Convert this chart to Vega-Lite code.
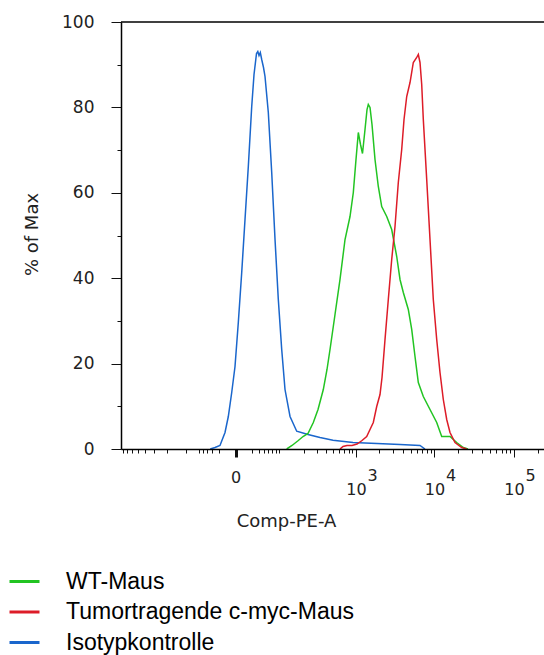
{
  "$schema": "https://vega.github.io/schema/vega-lite/v6.json",
  "width": 423,
  "height": 427,
  "autosize": {"type": "none"},
  "padding": {"left": 121, "top": 22, "right": 0, "bottom": 206},
  "background": "white",
  "config": {"view": {"stroke": null}},
  "layer": [
    {
      "data": {"values": [
        {"series": "Isotypkontrolle", "x": -34, "y": 0},
        {"series": "Isotypkontrolle", "x": -25.5, "y": 0.35},
        {"series": "Isotypkontrolle", "x": -17.9, "y": 0.82},
        {"series": "Isotypkontrolle", "x": -11.2, "y": 3.86},
        {"series": "Isotypkontrolle", "x": -7.3, "y": 7.61},
        {"series": "Isotypkontrolle", "x": -3.66, "y": 13.23},
        {"series": "Isotypkontrolle", "x": -0.46, "y": 19.32},
        {"series": "Isotypkontrolle", "x": 2.66, "y": 29.63},
        {"series": "Isotypkontrolle", "x": 6.2, "y": 41.33},
        {"series": "Isotypkontrolle", "x": 9.97, "y": 53.75},
        {"series": "Isotypkontrolle", "x": 14.14, "y": 66.16},
        {"series": "Isotypkontrolle", "x": 18.87, "y": 80.21},
        {"series": "Isotypkontrolle", "x": 22.33, "y": 87.7},
        {"series": "Isotypkontrolle", "x": 26.37, "y": 92.62},
        {"series": "Isotypkontrolle", "x": 28.58, "y": 93.09},
        {"series": "Isotypkontrolle", "x": 30.71, "y": 92.15},
        {"series": "Isotypkontrolle", "x": 33.09, "y": 92.86},
        {"series": "Isotypkontrolle", "x": 35.77, "y": 91.22},
        {"series": "Isotypkontrolle", "x": 39.37, "y": 89.34},
        {"series": "Isotypkontrolle", "x": 42.53, "y": 87.24},
        {"series": "Isotypkontrolle", "x": 49.96, "y": 78.81},
        {"series": "Isotypkontrolle", "x": 58.38, "y": 64.75},
        {"series": "Isotypkontrolle", "x": 67.43, "y": 49.06},
        {"series": "Isotypkontrolle", "x": 77.32, "y": 35.01},
        {"series": "Isotypkontrolle", "x": 88.58, "y": 23.3},
        {"series": "Isotypkontrolle", "x": 100.6, "y": 13.93},
        {"series": "Isotypkontrolle", "x": 121.3, "y": 7.61},
        {"series": "Isotypkontrolle", "x": 153.9, "y": 4.17},
        {"series": "Isotypkontrolle", "x": 225.6, "y": 3.4},
        {"series": "Isotypkontrolle", "x": 332.6, "y": 2.69},
        {"series": "Isotypkontrolle", "x": 499, "y": 2.06},
        {"series": "Isotypkontrolle", "x": 915, "y": 1.52},
        {"series": "Isotypkontrolle", "x": 1866, "y": 1.29},
        {"series": "Isotypkontrolle", "x": 3663, "y": 1.05},
        {"series": "Isotypkontrolle", "x": 6561, "y": 0.82},
        {"series": "Isotypkontrolle", "x": 7588, "y": 0},
        {"series": "WT-Maus", "x": 107.3, "y": 0},
        {"series": "WT-Maus", "x": 130.3, "y": 0.82},
        {"series": "WT-Maus", "x": 162.7, "y": 1.99},
        {"series": "WT-Maus", "x": 191.1, "y": 2.93},
        {"series": "WT-Maus", "x": 225.6, "y": 3.63},
        {"series": "WT-Maus", "x": 268.4, "y": 6.21},
        {"series": "WT-Maus", "x": 312.1, "y": 9.25},
        {"series": "WT-Maus", "x": 369.1, "y": 13.93},
        {"series": "WT-Maus", "x": 414.4, "y": 18.62},
        {"series": "WT-Maus", "x": 454.9, "y": 23.3},
        {"series": "WT-Maus", "x": 530.7, "y": 31.5},
        {"series": "WT-Maus", "x": 618.4, "y": 39.7},
        {"series": "WT-Maus", "x": 719.8, "y": 49.06},
        {"series": "WT-Maus", "x": 836.6, "y": 54.45},
        {"series": "WT-Maus", "x": 923.9, "y": 60.07},
        {"series": "WT-Maus", "x": 1001, "y": 67.8},
        {"series": "WT-Maus", "x": 1073, "y": 74.12},
        {"series": "WT-Maus", "x": 1145, "y": 71.31},
        {"series": "WT-Maus", "x": 1215, "y": 69.2},
        {"series": "WT-Maus", "x": 1309, "y": 74.82},
        {"series": "WT-Maus", "x": 1389, "y": 79.5},
        {"series": "WT-Maus", "x": 1443, "y": 80.68},
        {"series": "WT-Maus", "x": 1518, "y": 79.98},
        {"series": "WT-Maus", "x": 1610, "y": 76.0},
        {"series": "WT-Maus", "x": 1759, "y": 67.8},
        {"series": "WT-Maus", "x": 1939, "y": 61.48},
        {"series": "WT-Maus", "x": 2143, "y": 56.79},
        {"series": "WT-Maus", "x": 2482, "y": 54.45},
        {"series": "WT-Maus", "x": 2873, "y": 51.4},
        {"series": "WT-Maus", "x": 3327, "y": 45.08},
        {"series": "WT-Maus", "x": 3663, "y": 39.7},
        {"series": "WT-Maus", "x": 4034, "y": 36.65},
        {"series": "WT-Maus", "x": 4666, "y": 32.67},
        {"series": "WT-Maus", "x": 5153, "y": 27.99},
        {"series": "WT-Maus", "x": 5673, "y": 21.66},
        {"series": "WT-Maus", "x": 6247, "y": 15.57},
        {"series": "WT-Maus", "x": 7224, "y": 12.3},
        {"series": "WT-Maus", "x": 8776, "y": 9.25},
        {"series": "WT-Maus", "x": 10664, "y": 6.21},
        {"series": "WT-Maus", "x": 12329, "y": 2.93},
        {"series": "WT-Maus", "x": 15687, "y": 2.93},
        {"series": "WT-Maus", "x": 19054, "y": 1.52},
        {"series": "WT-Maus", "x": 23080, "y": 0.35},
        {"series": "WT-Maus", "x": 26444, "y": 0},
        {"series": "Tumortragende c-myc-Maus", "x": 618.4, "y": 0},
        {"series": "Tumortragende c-myc-Maus", "x": 677.3, "y": 0.59},
        {"series": "Tumortragende c-myc-Maus", "x": 764.2, "y": 0.82},
        {"series": "Tumortragende c-myc-Maus", "x": 888.3, "y": 0.82},
        {"series": "Tumortragende c-myc-Maus", "x": 1032, "y": 1.17},
        {"series": "Tumortragende c-myc-Maus", "x": 1198, "y": 1.99},
        {"series": "Tumortragende c-myc-Maus", "x": 1376, "y": 2.93},
        {"series": "Tumortragende c-myc-Maus", "x": 1518, "y": 4.57},
        {"series": "Tumortragende c-myc-Maus", "x": 1673, "y": 6.21},
        {"series": "Tumortragende c-myc-Maus", "x": 1850, "y": 9.95},
        {"series": "Tumortragende c-myc-Maus", "x": 2038, "y": 12.76},
        {"series": "Tumortragende c-myc-Maus", "x": 2162, "y": 16.74},
        {"series": "Tumortragende c-myc-Maus", "x": 2361, "y": 25.64},
        {"series": "Tumortragende c-myc-Maus", "x": 2601, "y": 35.01},
        {"series": "Tumortragende c-myc-Maus", "x": 2873, "y": 44.38},
        {"series": "Tumortragende c-myc-Maus", "x": 3164, "y": 52.11},
        {"series": "Tumortragende c-myc-Maus", "x": 3485, "y": 62.41},
        {"series": "Tumortragende c-myc-Maus", "x": 3849, "y": 70.14},
        {"series": "Tumortragende c-myc-Maus", "x": 4117, "y": 77.17},
        {"series": "Tumortragende c-myc-Maus", "x": 4454, "y": 82.55},
        {"series": "Tumortragende c-myc-Maus", "x": 4905, "y": 85.83},
        {"series": "Tumortragende c-myc-Maus", "x": 5400, "y": 90.52},
        {"series": "Tumortragende c-myc-Maus", "x": 5960, "y": 91.69},
        {"series": "Tumortragende c-myc-Maus", "x": 6247, "y": 92.39},
        {"series": "Tumortragende c-myc-Maus", "x": 6561, "y": 90.52},
        {"series": "Tumortragende c-myc-Maus", "x": 6895, "y": 85.36},
        {"series": "Tumortragende c-myc-Maus", "x": 7224, "y": 77.17},
        {"series": "Tumortragende c-myc-Maus", "x": 7973, "y": 63.11},
        {"series": "Tumortragende c-myc-Maus", "x": 8776, "y": 49.06},
        {"series": "Tumortragende c-myc-Maus", "x": 9658, "y": 35.01},
        {"series": "Tumortragende c-myc-Maus", "x": 10664, "y": 25.64},
        {"series": "Tumortragende c-myc-Maus", "x": 11734, "y": 17.92},
        {"series": "Tumortragende c-myc-Maus", "x": 12915, "y": 11.59},
        {"series": "Tumortragende c-myc-Maus", "x": 14257, "y": 6.91},
        {"series": "Tumortragende c-myc-Maus", "x": 15687, "y": 3.86},
        {"series": "Tumortragende c-myc-Maus", "x": 18138, "y": 1.52},
        {"series": "Tumortragende c-myc-Maus", "x": 22035, "y": 0.35},
        {"series": "Tumortragende c-myc-Maus", "x": 25472, "y": 0}
      ]},
      "mark": {"type": "line", "strokeWidth": 1.5, "clip": true},
      "encoding": {
        "x": {
          "field": "x", "type": "quantitative", "title": "Comp-PE-A",
          "scale": {"type": "symlog", "constant": 31.5, "domain": [-837, 239180], "nice": false, "zero": false},
          "axis": {
            "values": [-800, -700, -600, -500, -400, -300, -200, -100, -60, -50, -40, -30, -20, 0, 20, 30, 40, 50, 60, 70, 80, 200, 300, 400, 500, 600, 700, 800, 900, 1000, 2000, 3000, 4000, 5000, 6000, 7000, 8000, 9000, 10000, 20000, 30000, 40000, 50000, 60000, 70000, 80000, 90000, 100000, 200000],
            "labelExpr": "datum.value === 0 ? '0' : datum.value === 1000 ? ['\u200b\u2007\u2007\u2007\u200a3', '10'] : datum.value === 10000 ? ['\u200b\u2007\u2007\u2007\u200a4', '10'] : datum.value === 100000 ? ['\u200b\u2007\u2007\u2007\u200a5', '10'] : ''",
            "labelOverlap": false, "labelFlush": false, "labelBound": false,
            "labelBaseline": "top", "labelLineHeight": 14,
            "labelFont": "DejaVu Sans", "labelFontSize": 16, "labelColor": "#222",
            "labelPadding": {"condition": {"test": "datum.value === 0", "value": 12}, "value": 10},
            "tickSize": {"condition": {"test": "datum.value === 0 || datum.value === 1000 || datum.value === 10000 || datum.value === 100000", "value": 8}, "value": 4},
            "tickWidth": {"condition": {"test": "datum.value === 0", "value": 3}, "value": 1},
            "tickColor": "#111", "domainColor": "#000", "domainWidth": 1.5, "grid": false, "zindex": 1,
            "titleFont": "DejaVu Sans", "titleFontSize": 18, "titleFontWeight": "normal", "titleColor": "#222",
            "titleX": 165, "titleY": 77, "titleAlign": "center", "titleBaseline": "alphabetic"
          }
        },
        "y": {
          "field": "y", "type": "quantitative", "title": "% of Max",
          "scale": {"domain": [0, 100], "nice": false},
          "axis": {
            "values": [0, 5, 10, 15, 20, 25, 30, 35, 40, 45, 50, 55, 60, 65, 70, 75, 80, 85, 90, 95, 100],
            "labelExpr": "datum.value % 20 === 0 ? datum.label : ''",
            "labelOverlap": false, "labelFlush": false, "labelBound": false,
            "labelFont": "DejaVu Sans", "labelFontSize": 17, "labelColor": "#222", "labelPadding": 17,
            "tickSize": {"condition": {"test": "datum.value % 20 === 0", "value": 10}, "value": 4},
            "tickColor": "#111", "domainColor": "#000", "domainWidth": 1.5, "grid": false,
            "titleFont": "DejaVu Sans", "titleFontSize": 18, "titleFontWeight": "normal", "titleColor": "#222",
            "titleX": -84, "titleY": 212, "titleAlign": "center", "titleBaseline": "alphabetic", "titleAngle": 270
          }
        },
        "color": {
          "field": "series", "type": "nominal",
          "scale": {"domain": ["WT-Maus", "Tumortragende c-myc-Maus", "Isotypkontrolle"], "range": ["#22c422", "#dd1c28", "#1a66cc"]},
          "legend": {
            "title": null, "orient": "none", "legendX": -113, "legendY": 543,
            "symbolType": "stroke", "symbolSize": 900, "symbolStrokeWidth": 3,
            "labelFont": "Liberation Sans", "labelFontSize": 23, "labelColor": "#000",
            "labelOffset": 25, "rowPadding": 1.5, "padding": 0, "labelLimit": 500, "labelBaseline": "middle"
          }
        }
      }
    },
    {
      "data": {"values": [{"top": 100}]},
      "mark": {"type": "rule", "color": "#000", "strokeWidth": 1.5},
      "encoding": {"y": {"field": "top", "type": "quantitative", "title": "% of Max"}}
    }
  ]
}
